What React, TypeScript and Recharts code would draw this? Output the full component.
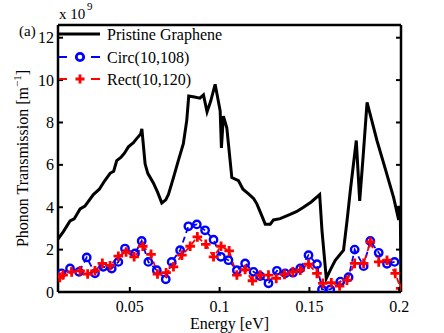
import React from 'react';
import { ComposedChart, Line, XAxis, YAxis } from 'recharts';

// Pristine graphene transmission (x 1e9 m^-1) vs energy (eV)
const pristineEnergy = [
  0.01, 0.013, 0.0167, 0.019, 0.0223, 0.025, 0.0297, 0.033, 0.036, 0.039, 0.041, 0.0427,
  0.045, 0.047, 0.0492, 0.052, 0.0539, 0.056, 0.0567, 0.0585, 0.06, 0.0631, 0.0655, 0.0678,
  0.07, 0.0715, 0.0743, 0.077, 0.0798, 0.0817, 0.0828, 0.086, 0.089, 0.091, 0.093, 0.095,
  0.0975, 0.1003, 0.101, 0.1021, 0.104, 0.1068, 0.1105, 0.113, 0.1161, 0.119, 0.1208, 0.123,
  0.1254, 0.1282, 0.13, 0.1337, 0.1393, 0.143, 0.1467, 0.151, 0.1557, 0.157, 0.1594, 0.162,
  0.1644, 0.169, 0.171, 0.1728, 0.1761, 0.178, 0.18, 0.1821, 0.185, 0.1876, 0.1923, 0.1969,
  0.1997, 0.1999, 0.2006, 0.201,
];
const pristineT = [
  2.5, 2.85, 3.35, 3.45, 3.92, 4.05, 4.6, 4.85, 5.25, 5.6, 5.7, 6.2,
  6.35, 6.55, 6.85, 7.05, 7.25, 7.45, 7.7, 6.05, 5.6, 5.15, 4.7, 4.2,
  4.35, 4.6, 5.4, 6.2, 7.0, 8.1, 9.25, 9.2, 9.15, 9.3, 8.5, 9.0,
  9.8, 8.55, 6.8, 8.3, 7.75, 5.4, 5.25, 4.85, 4.63, 4.4, 4.15, 3.7,
  3.2, 3.2, 3.4, 3.46, 3.66, 3.8, 4.0, 4.25, 4.6, 2.9, 0.64, 1.1,
  1.5, 1.97, 3.4, 4.8, 7.15, 4.3, 6.5, 8.95, 8.0, 7.15, 5.8, 4.45,
  3.4, 4.0, 4.0, 0.2,
];

// Circ(10,108)
const circEnergy = [
  0.012, 0.0167, 0.0217, 0.026, 0.0306, 0.0352, 0.0399, 0.0436, 0.0473, 0.0529, 0.0566,
  0.0603, 0.065, 0.07, 0.0733, 0.078, 0.0826, 0.0873, 0.0919, 0.0966, 0.1007, 0.1049,
  0.1096, 0.1142, 0.1189, 0.1226, 0.1272, 0.1319, 0.1365, 0.1408, 0.1449, 0.1495, 0.1542,
  0.157, 0.1616, 0.1672, 0.1718, 0.1752, 0.1802, 0.1839, 0.1886, 0.1932, 0.1974,
];
const circT = [
  0.88, 1.11, 0.95, 1.63, 0.88, 1.19, 1.11, 1.42, 2.05, 1.82, 2.41,
  1.42, 1.03, 0.6, 1.42, 1.97, 3.1, 3.19, 2.91, 2.47, 1.66, 1.5,
  1.03, 1.35, 0.95, 0.75, 0.41, 1.0, 0.88, 0.91, 1.11, 1.74, 1.31,
  0.12, 0.12, 0.49, 0.7, 2.0, 1.22, 2.41, 1.85, 1.33, 1.42,
];

// Rect(10,120)
const rectEnergy = [
  0.011, 0.0128, 0.0176, 0.0223, 0.0265, 0.0306, 0.0347, 0.039, 0.0436, 0.0479, 0.0524,
  0.0572, 0.0618, 0.0654, 0.0702, 0.0743, 0.079, 0.0836, 0.0876, 0.0923, 0.0966, 0.1008,
  0.1053, 0.1096, 0.1142, 0.1183, 0.1226, 0.1272, 0.1315, 0.1361, 0.1408, 0.1449, 0.1495,
  0.1542, 0.1575, 0.1622, 0.1668, 0.1709, 0.1752, 0.1802, 0.1839, 0.1886, 0.1932, 0.1978,
  0.2008,
];
const rectT = [
  0.69, 0.8, 0.95, 1.0, 0.85, 1.0, 1.35, 1.24, 1.69, 1.89, 1.66,
  2.16, 1.78, 0.85, 0.91, 1.19, 1.74, 2.16, 2.6, 2.25, 1.66, 2.16,
  1.94, 0.8, 1.06, 0.53, 0.8, 0.8, 0.64, 0.83, 0.95, 1.03, 1.31,
  0.88, 0.41, 0.44, 0.28, 0.56, 1.35, 1.35, 2.36, 1.42, 1.5, 0.88,
  0.17,
];

const xTicks = [0.05, 0.1, 0.15, 0.2];
const yTicks = [0, 2, 4, 6, 8, 10, 12];
const X_DOMAIN = [0.01, 0.201];
const Y_DOMAIN = [0, 12.6];

const FONT = '"Liberation Serif", "Times New Roman", Times, serif';
const BLUE = '#0000ff';
const RED = '#ff0000';

const pristine = pristineEnergy.map((e, i) => ({ e, t: pristineT[i] }));
const circ = circEnergy.map((e, i) => ({ e, t: circT[i] }));
const rect = rectEnergy.map((e, i) => ({ e, t: rectT[i] }));

const txt = { fontFamily: FONT, fill: '#000' };

const BottomTick = ({ x, y, payload }: any) => (
  <g>
    <line x1={x} x2={x} y1={y} y2={y - 5} stroke="#000" strokeWidth={2} />
    <text x={x} y={y + 20} textAnchor="middle" fontSize={16} style={txt}>
      {String(payload.value)}
    </text>
  </g>
);
const TopTick = ({ x, y }: any) => (
  <line x1={x} x2={x} y1={y} y2={y + 5} stroke="#000" strokeWidth={2} />
);
const LeftTick = ({ x, y, payload }: any) => (
  <g>
    <line x1={x} x2={x + 5} y1={y} y2={y} stroke="#000" strokeWidth={2} />
    <text x={x - 4} y={y + 5.5} textAnchor="end" fontSize={16} style={txt}>
      {payload.value}
    </text>
  </g>
);
const RightTick = ({ x, y }: any) => (
  <line x1={x} x2={x - 5} y1={y} y2={y} stroke="#000" strokeWidth={2} />
);

const CircleDot = (props: any) => {
  const { cx, cy, index } = props;
  return <circle key={`c${index}`} cx={cx} cy={cy} r={3.7} fill="none" stroke={BLUE} strokeWidth={2.4} />;
};
const PlusDot = (props: any) => {
  const { cx, cy, index } = props;
  return (
    <path
      key={`p${index}`}
      d={`M${cx - 4.8},${cy}H${cx + 4.8}M${cx},${cy - 4.8}V${cy + 4.8}`}
      stroke={RED}
      strokeWidth={2.8}
      fill="none"
    />
  );
};

const axisLine = { stroke: '#000', strokeWidth: 2.5 };

export default function App() {
  return (
    <div style={{ position: 'absolute', left: 0, top: 0, width: 444, height: 333, background: '#fff' }}>
      <ComposedChart
        width={444}
        height={333}
        margin={{ top: 24, right: 42, bottom: 0, left: 0 }}
      >
        <XAxis
          dataKey="e"
          type="number"
          domain={X_DOMAIN}
          allowDataOverflow
          ticks={xTicks}
          interval={0}
          height={41}
          tickSize={0}
          tickMargin={0}
          tickLine={false}
          axisLine={axisLine}
          tick={<BottomTick />}
        />
        <XAxis
          xAxisId="top"
          orientation="top"
          type="number"
          domain={X_DOMAIN}
          allowDataOverflow
          ticks={xTicks}
          interval={0}
          height={1}
          tickSize={0}
          tickMargin={0}
          tickLine={false}
          axisLine={axisLine}
          tick={<TopTick />}
        />
        <YAxis
          type="number"
          domain={Y_DOMAIN}
          allowDataOverflow
          ticks={yTicks}
          interval={0}
          width={58}
          tickSize={0}
          tickMargin={0}
          tickLine={false}
          axisLine={axisLine}
          tick={<LeftTick />}
        />
        <YAxis
          yAxisId="right"
          orientation="right"
          type="number"
          domain={Y_DOMAIN}
          allowDataOverflow
          ticks={yTicks}
          interval={0}
          width={1}
          tickSize={0}
          tickMargin={0}
          tickLine={false}
          axisLine={axisLine}
          tick={<RightTick />}
        />
        <Line
          data={pristine}
          dataKey="t"
          type="linear"
          stroke="#000"
          strokeWidth={3}
          dot={false}
          isAnimationActive={false}
        />
        <Line
          data={circ}
          dataKey="t"
          type="linear"
          stroke={BLUE}
          strokeWidth={1.8}
          strokeDasharray="6 4"
          dot={CircleDot}
          isAnimationActive={false}
        />
        <Line
          data={rect}
          dataKey="t"
          type="linear"
          stroke={RED}
          strokeWidth={1.8}
          strokeDasharray="6 4"
          dot={PlusDot}
          isAnimationActive={false}
        />
      </ComposedChart>

      <svg
        width={444}
        height={333}
        style={{ position: 'absolute', left: 0, top: 0, pointerEvents: 'none', fontFamily: FONT }}
      >
        {/* exponent */}
        <text x={59} y={19} fontSize={15} style={txt}>x 10</text>
        <text x={87} y={10} fontSize={11} style={txt}>9</text>
        <text x={19} y={36} fontSize={15} style={txt}>(a)</text>

        {/* axis titles */}
        <text x={229.5} y={329} fontSize={16} textAnchor="middle" style={txt}>Energy [eV]</text>
        <text transform="translate(28,158.5) rotate(-90)" fontSize={16} textAnchor="middle" style={txt}>
          Phonon Transmission [m<tspan dy={-7} fontSize={11}>−1</tspan><tspan dy={7}>]</tspan>
        </text>

        {/* legend */}
        <line x1={59} x2={100} y1={34} y2={34} stroke="#000" strokeWidth={3} />
        <text x={107} y={40} fontSize={16} style={txt}>Pristine Graphene</text>

        <line x1={59} x2={67} y1={57} y2={57} stroke={BLUE} strokeWidth={2} />
        <line x1={91} x2={100} y1={57} y2={57} stroke={BLUE} strokeWidth={2} />
        <circle cx={80} cy={57} r={3.7} fill="none" stroke={BLUE} strokeWidth={2.8} />
        <text x={107} y={63} fontSize={16} style={txt}>Circ(10,108)</text>

        <line x1={59} x2={67} y1={79} y2={79} stroke={RED} strokeWidth={2} />
        <line x1={91} x2={100} y1={79} y2={79} stroke={RED} strokeWidth={2} />
        <path d="M75.5,79H84.5M80,74.5V83.5" stroke={RED} strokeWidth={2.8} />
        <text x={107} y={85} fontSize={16} style={txt}>Rect(10,120)</text>
      </svg>
    </div>
  );
}
